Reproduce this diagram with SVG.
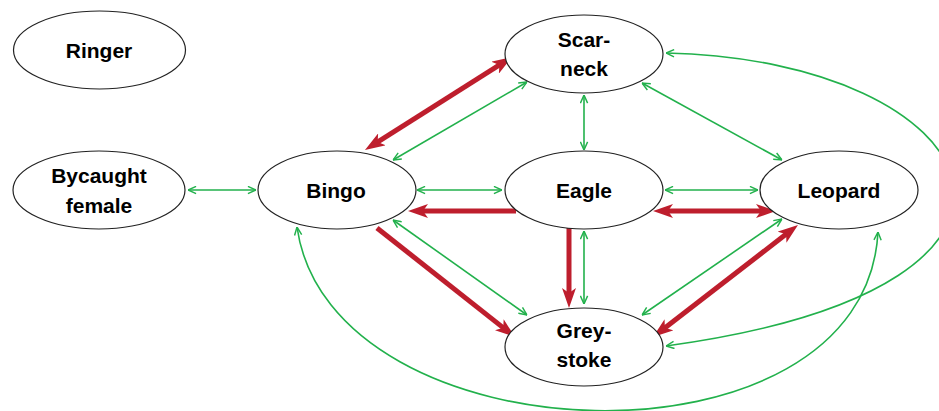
<svg xmlns="http://www.w3.org/2000/svg" width="939" height="411" viewBox="0 0 939 411">
<style>
.node ellipse{fill:#fff;stroke:#222;stroke-width:1.2}
.node text{font-family:"Liberation Sans",Arial,sans-serif;font-weight:bold;font-size:21px;fill:#000;text-anchor:middle}
.g{fill:none;stroke:#22b14c;stroke-width:1.6;marker-start:url(#ga);marker-end:url(#ga)}
.r{fill:none;stroke:#be1e2d;stroke-width:5}
.rb{marker-start:url(#ra);marker-end:url(#ra)}
.re{marker-end:url(#ra)}
</style>
<defs>
<marker id="ga" viewBox="0 0 10 10" refX="10" refY="5" markerWidth="9" markerHeight="9" markerUnits="userSpaceOnUse" orient="auto-start-reverse">
<path d="M1,1 L10,5 L1,9" fill="none" stroke="#22b14c" stroke-width="1.6"/>
</marker>
<marker id="ra" viewBox="0 0 20 14" refX="8" refY="7" markerWidth="20" markerHeight="14" markerUnits="userSpaceOnUse" orient="auto-start-reverse">
<path d="M0,0 L20,7 L0,14 L5,7 z" fill="#be1e2d"/>
</marker>
</defs>
<g id="connectors">
<path class="g" d="M188,190 L256,190"/>
<path class="g" d="M417,190 L502,190"/>
<path class="g" d="M665,190 L758,190"/>
<path class="g" d="M584,95 L584,150"/>
<path class="g" d="M642,83 L782,160"/>
<path class="g" d="M393,160 L527,82"/>
<path class="g" d="M584,231 L584,304"/>
<path class="g" d="M393,220 L527,315"/>
<path class="g" d="M782,219 L642,315"/>
<path class="g" d="M666,53 C985,60 1110,285 666,346"/>
<path class="g" d="M297,227 C330,462 865,480 878,232"/>
<path class="r rb" d="M375.1,143.6 L501.9,63.4"/>
<path class="r re" d="M516,211 L420,211"/>
<path class="r rb" d="M665,211 L764,211"/>
<path class="r re" d="M569,228 L569,296"/>
<path class="r re" d="M377,228 L505.6,329.6"/>
<path class="r rb" d="M788.5,232.3 L662.5,329.7"/>
</g>
<g id="ringer" class="node"><ellipse cx="99.5" cy="50" rx="86" ry="39"/><text x="99" y="58">Ringer</text></g>
<g id="bycaught" class="node"><ellipse cx="99" cy="190" rx="86" ry="39"/><text x="99" y="183">Bycaught</text><text x="99" y="213">female</text></g>
<g id="bingo" class="node"><ellipse cx="337" cy="190" rx="79" ry="39"/><text x="336" y="198">Bingo</text></g>
<g id="scarneck" class="node"><ellipse cx="584" cy="54" rx="79" ry="39"/><text x="584" y="47">Scar-</text><text x="584" y="76">neck</text></g>
<g id="eagle" class="node"><ellipse cx="584" cy="190" rx="79" ry="39"/><text x="584" y="198">Eagle</text></g>
<g id="leopard" class="node"><ellipse cx="839" cy="190" rx="79" ry="39"/><text x="839" y="198">Leopard</text></g>
<g id="greystoke" class="node"><ellipse cx="584" cy="347" rx="79" ry="39"/><text x="584" y="338">Grey-</text><text x="584" y="367">stoke</text></g>
</svg>
